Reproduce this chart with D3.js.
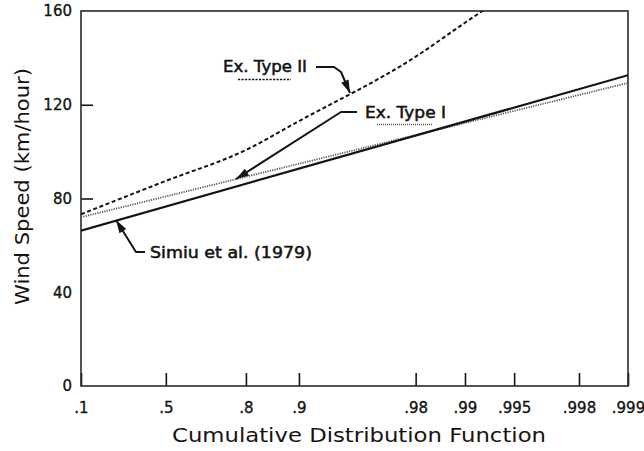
<!DOCTYPE html>
<html>
<head>
<meta charset="utf-8">
<script src="https://cdn.jsdelivr.net/npm/d3@7"></script>
<style>
  html, body { margin: 0; padding: 0; background: #fff; }
  svg { display: block; font-family: "DejaVu Sans", sans-serif; }
</style>
</head>
<body>
<svg id="chart" width="644" height="451"></svg>
<script>
// Probability ticks on the extreme-value (Gumbel) paper axis
const cdfTicks = [0.1, 0.5, 0.8, 0.9, 0.98, 0.99, 0.995, 0.998, 0.999];
const cdfTickLabels = [".1", ".5", ".8", ".9", ".98", ".99", ".995", ".998", ".999"];
const speedTicks = [0, 40, 80, 120, 160];

// Simiu et al. (1979) – straight line on Gumbel paper
const simiuP = [0.1, 0.999];
const simiuV = [66.3, 132.6];

// Extreme Type I fit
const typeIP = [0.1, 0.999];
const typeIV = [72.0, 129.3];

// Extreme Type II fit
const typeIIP = [0.1, 0.5, 0.8, 0.9, 0.98, 0.99, 0.995];
const typeIIV = [73.3, 87.5, 100.7, 113.0, 140.5, 155.0, 169.0];

const svg = d3.select("#chart");
const plotLeft = 81, plotRight = 628, plotTop = 11, plotBottom = 386;

// reduced variate y = -ln(-ln p)
const reduced = p => -Math.log(-Math.log(p));
const x = d3.scaleLinear()
  .domain([reduced(0.1), reduced(0.999)])
  .range([plotLeft, plotRight]);
const y = d3.scaleLinear().domain([0, 160]).range([plotBottom, plotTop]);

const ink = "#141414";

svg.append("defs").append("clipPath").attr("id", "plotClip")
  .append("rect").attr("x", plotLeft).attr("y", plotTop)
  .attr("width", plotRight - plotLeft).attr("height", plotBottom - plotTop);

// x axis: inward ticks
const xAxis = d3.axisBottom(x)
  .tickValues(cdfTicks.map(reduced))
  .tickFormat((d, i) => cdfTickLabels[i])
  .tickSizeInner(-13).tickSizeOuter(0).tickPadding(16);
const gx = svg.append("g").attr("transform", `translate(0,${plotBottom})`).call(xAxis);
gx.select(".domain").remove();
gx.selectAll(".tick line").attr("stroke", ink).attr("stroke-width", 1.6);
gx.selectAll(".tick text").attr("fill", ink).style("font-size", "15px")
  .style("font-family", "'DejaVu Sans', sans-serif")
  .attr("stroke", ink).attr("stroke-width", 0.35);

// y axis: inward ticks
const yAxis = d3.axisLeft(y)
  .tickValues(speedTicks)
  .tickSizeInner(-12).tickSizeOuter(0).tickPadding(9);
const gy = svg.append("g").attr("transform", `translate(${plotLeft},0)`).call(yAxis);
gy.select(".domain").remove();
gy.selectAll(".tick line").attr("stroke", ink).attr("stroke-width", 1.6)
  .attr("display", d => (d === 80 || d === 120) ? null : "none");
gy.selectAll(".tick text").attr("fill", ink).style("font-size", "15px")
  .style("font-family", "'DejaVu Sans', sans-serif")
  .attr("stroke", ink).attr("stroke-width", 0.35);

// plot frame
svg.append("rect")
  .attr("x", plotLeft).attr("y", plotTop)
  .attr("width", plotRight - plotLeft).attr("height", plotBottom - plotTop)
  .attr("fill", "none").attr("stroke", "#2a2a2a").attr("stroke-width", 1.6);

// curves
const plot = svg.append("g").attr("clip-path", "url(#plotClip)");
const toPts = (ps, vs) => ps.map((p, i) => [x(reduced(p)), y(vs[i])]);
const straight = d3.line();
const smooth = d3.line().curve(d3.curveMonotoneX);

plot.append("path").attr("d", straight(toPts(typeIP, typeIV)))
  .attr("fill", "none").attr("stroke", "#555").attr("stroke-width", 1.8)
  .attr("stroke-dasharray", "1.2,1.2");

plot.append("path").attr("d", straight(toPts(simiuP, simiuV)))
  .attr("fill", "none").attr("stroke", ink).attr("stroke-width", 2.2);

plot.append("path").attr("d", smooth(toPts(typeIIP, typeIIV)))
  .attr("fill", "none").attr("stroke", ink).attr("stroke-width", 2)
  .attr("stroke-dasharray", "4,2.6");

// annotation leaders with filled arrowheads
function leader(points) {
  svg.append("path").attr("d", d3.line()(points))
    .attr("fill", "none").attr("stroke", ink).attr("stroke-width", 2)
    .attr("stroke-linejoin", "round");
  const [a, b] = points.slice(-2);
  const ang = Math.atan2(b[1] - a[1], b[0] - a[0]);
  const L = 13, W = 4;
  const bx = b[0] - L * Math.cos(ang), by = b[1] - L * Math.sin(ang);
  const px = -Math.sin(ang) * W, py = Math.cos(ang) * W;
  svg.append("path")
    .attr("d", `M${b[0]},${b[1]}L${bx + px},${by + py}L${bx - px},${by - py}Z`)
    .attr("fill", ink);
}

const labelStyle = t => t.attr("fill", ink).style("font-size", "15px")
  .style("font-family", "'DejaVu Sans', sans-serif")
  .attr("stroke", ink).attr("stroke-width", 0.5);

// Ex. Type II
labelStyle(svg.append("text").attr("x", 223).attr("y", 72)
  .attr("textLength", 84).attr("lengthAdjust", "spacingAndGlyphs").text("Ex. Type II"));
svg.append("line").attr("x1", 238).attr("x2", 291).attr("y1", 79.5).attr("y2", 79.5)
  .attr("stroke", ink).attr("stroke-width", 1.6).attr("stroke-dasharray", "2.2,1.3");
leader([[316, 67], [334, 67], [341, 72], [350, 93]]);

// Ex. Type I
labelStyle(svg.append("text").attr("x", 365).attr("y", 117.5)
  .attr("textLength", 81).attr("lengthAdjust", "spacingAndGlyphs").text("Ex. Type I"));
svg.append("line").attr("x1", 377).attr("x2", 432).attr("y1", 124.5).attr("y2", 124.5)
  .attr("stroke", "#555").attr("stroke-width", 1.4).attr("stroke-dasharray", "1,1");
leader([[357, 112], [341, 112], [236, 179]]);

// Simiu et al. (1979)
labelStyle(svg.append("text").attr("x", 150).attr("y", 257.5)
  .attr("textLength", 162).attr("lengthAdjust", "spacingAndGlyphs").text("Simiu et al. (1979)"));
leader([[145, 252], [136, 252], [116, 220]]);

// axis titles
svg.append("text").attr("x", 359).attr("y", 442).attr("text-anchor", "middle")
  .attr("textLength", 374).attr("lengthAdjust", "spacingAndGlyphs")
  .attr("fill", ink).style("font-size", "20px").text("Cumulative Distribution Function");

svg.append("text").attr("transform", "translate(28.5,186.5) rotate(-90)")
  .attr("text-anchor", "middle")
  .attr("textLength", 237).attr("lengthAdjust", "spacingAndGlyphs")
  .attr("fill", ink).style("font-size", "20px").text("Wind Speed (km/hour)");
</script>
</body>
</html>
